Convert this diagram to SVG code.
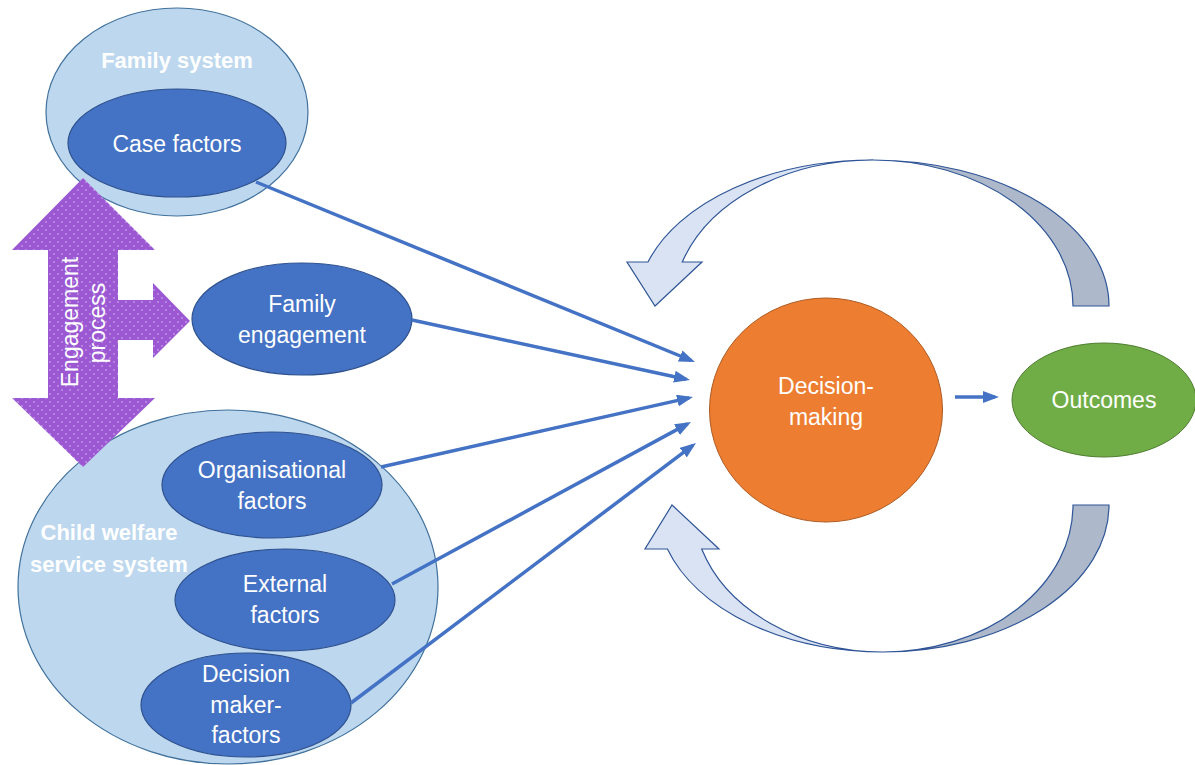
<svg xmlns="http://www.w3.org/2000/svg" width="1195" height="765" viewBox="0 0 1195 765">
  <style>
    .sys { fill: #BDD7EE; stroke: #41719C; stroke-width: 1.2; }
    .factor { fill: #4472C4; stroke: #2F528F; stroke-width: 1.2; }
    .lbl { font-family: "Liberation Sans", Arial, sans-serif; font-size: 23px; fill: #FFFFFF; text-anchor: middle; }
    .title { font-family: "Liberation Sans", Arial, sans-serif; font-size: 22px; font-weight: bold; fill: #FFFFFF; text-anchor: middle; }
    .link { stroke: #4472C4; stroke-width: 3.5; fill: none; marker-end: url(#head); }
    .loop-light { fill: #DAE3F3; stroke: #2F5597; stroke-width: 1.2; stroke-linejoin: miter; }
    .loop-dark { fill: #ADB9CA; stroke: #2F5597; stroke-width: 1.2; }
  </style>
  <defs>
    <marker id="head" markerUnits="userSpaceOnUse" viewBox="0 0 16 12" markerWidth="16" markerHeight="12" refX="12" refY="6" orient="auto">
      <path d="M0,0 L16,6 L0,12 Z" fill="#4472C4"/>
    </marker>
    <pattern id="dots" width="8" height="8" patternUnits="userSpaceOnUse">
      <rect width="8" height="8" fill="#9B58D2"/>
      <circle cx="2" cy="2" r="0.8" fill="#FFFFFF" fill-opacity="0.6"/>
      <circle cx="6" cy="6" r="0.8" fill="#FFFFFF" fill-opacity="0.6"/>
    </pattern>
  </defs>

  <!-- Family system with case factors -->
  <g id="family-system">
    <ellipse class="sys" cx="177" cy="112" rx="131" ry="104"/>
    <text class="title" x="177" y="68">Family system</text>
  </g>
  <g id="case-factors">
    <ellipse class="factor" cx="177" cy="143" rx="109" ry="54"/>
    <text class="lbl" x="177" y="152">Case factors</text>
  </g>

  <!-- Child welfare service system -->
  <g id="child-welfare-system">
    <ellipse class="sys" cx="228" cy="587" rx="210" ry="177"/>
    <text class="title" x="109" y="540">Child welfare</text>
    <text class="title" x="109" y="572">service system</text>
  </g>

  <!-- Engagement process double arrow with side branch -->
  <g id="engagement-process">
    <polygon fill="url(#dots)" points="83,178 155,250 118,250 118,300 153,300 153,283 190,321 153,358 153,340 118,340 118,398 155,398 83,467 12,398 48,398 48,250 12,250"/>
    <text class="lbl" transform="translate(78,322) rotate(-90)">Engagement</text>
    <text class="lbl" transform="translate(105,323) rotate(-90)">process</text>
  </g>

  <g id="family-engagement">
    <ellipse class="factor" cx="302" cy="319" rx="110" ry="56"/>
    <text class="lbl" x="302" y="312">Family</text>
    <text class="lbl" x="302" y="343">engagement</text>
  </g>

  <g id="organisational-factors">
    <ellipse class="factor" cx="272" cy="485" rx="110" ry="53"/>
    <text class="lbl" x="272" y="478">Organisational</text>
    <text class="lbl" x="272" y="509">factors</text>
  </g>

  <g id="external-factors">
    <ellipse class="factor" cx="285" cy="600" rx="110" ry="51"/>
    <text class="lbl" x="285" y="592">External</text>
    <text class="lbl" x="285" y="623">factors</text>
  </g>

  <g id="decision-maker-factors">
    <ellipse class="factor" cx="246" cy="705" rx="105" ry="52"/>
    <text class="lbl" x="246" y="682">Decision</text>
    <text class="lbl" x="246" y="713">maker-</text>
    <text class="lbl" x="246" y="743">factors</text>
  </g>

  <g id="decision-making">
    <ellipse cx="826" cy="410" rx="116.5" ry="112" fill="#ED7D31" stroke="#AE5A21" stroke-width="1"/>
    <text class="lbl" x="826" y="394">Decision-</text>
    <text class="lbl" x="826" y="425">making</text>
  </g>

  <g id="outcomes">
    <ellipse cx="1104" cy="400" rx="92" ry="57" fill="#70AD47" stroke="#507E32" stroke-width="1"/>
    <text class="lbl" x="1104" y="408">Outcomes</text>
  </g>

  <!-- Feedback loops between outcomes and decision-making -->
  <g id="feedback-top">
    <path class="loop-dark" d="M873,160 A236,146 0 0 1 1109,306 L1073,306 A200,146 0 0 0 873,160 Z"/>
    <path class="loop-light" d="M682.3,262 L702,262 L655,306 L627,262 L648,262 A236,146 0 0 1 873,160 A200,146 0 0 0 682.3,262 Z"/>
  </g>
  <g id="feedback-bottom">
    <path class="loop-dark" d="M1109,505 A226,147 0 0 1 883,652 A190,147 0 0 0 1073,505 Z"/>
    <path class="loop-light" d="M883,652 A226,147 0 0 1 667.4,549 L645,549 L672,505 L719,549 L701.7,549 A190,147 0 0 0 883,652 Z"/>
  </g>

  <!-- Influence connectors -->
  <g id="connectors">
    <line class="link" x1="256" y1="182" x2="691.3" y2="360.5"/>
    <line class="link" x1="412" y1="320" x2="686.1" y2="379.2"/>
    <line class="link" x1="381" y1="467" x2="689.1" y2="397.9"/>
    <line class="link" x1="392" y1="584" x2="687.5" y2="423.9"/>
    <line class="link" x1="351" y1="703" x2="692.8" y2="445.4"/>
    <line class="link" x1="955" y1="397" x2="995" y2="397"/>
  </g>
</svg>
